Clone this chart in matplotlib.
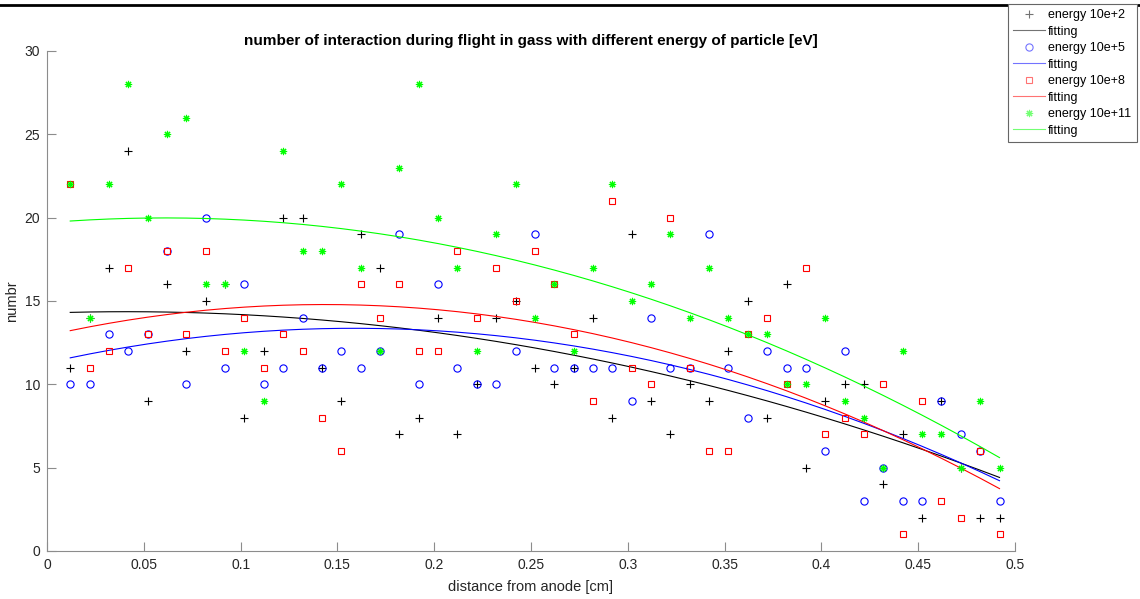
import numpy as np
import matplotlib
matplotlib.use("Agg")
import matplotlib.pyplot as plt
from matplotlib.lines import Line2D

plt.rcParams['font.family'] = ['Liberation Sans', 'DejaVu Sans']

# distance from anode [cm]
distance = [0.012, 0.022, 0.032, 0.042, 0.052, 0.062, 0.072, 0.082, 0.092, 0.102,
            0.112, 0.122, 0.132, 0.142, 0.152, 0.162, 0.172, 0.182, 0.192, 0.202,
            0.212, 0.222, 0.232, 0.242, 0.252, 0.262, 0.272, 0.282, 0.292, 0.302,
            0.312, 0.322, 0.332, 0.342, 0.352, 0.362, 0.372, 0.382, 0.392, 0.402,
            0.412, 0.422, 0.432, 0.442, 0.452, 0.462, 0.472, 0.482, 0.492]

energy_1e2 = [11, 14, 17, 24, 9, 16, 12, 15, 16, 8,
              12, 20, 20, 11, 9, 19, 17, 7, 8, 14,
              7, 10, 14, 15, 11, 10, 11, 14, 8, 19,
              9, 7, 10, 9, 12, 15, 8, 16, 5, 9,
              10, 10, 4, 7, 2, 9, 5, 2, 2]
energy_1e5 = [10, 10, 13, 12, 13, 18, 10, 20, 11, 16,
              10, 11, 14, 11, 12, 11, 12, 19, 10, 16,
              11, 10, 10, 12, 19, 11, 11, 11, 11, 9,
              14, 11, 11, 19, 11, 8, 12, 11, 11, 6,
              12, 3, 5, 3, 3, 9, 7, 6, 3]
energy_1e8 = [22, 11, 12, 17, 13, 18, 13, 18, 12, 14,
              11, 13, 12, 8, 6, 16, 14, 16, 12, 12,
              18, 14, 17, 15, 18, 16, 13, 9, 21, 11,
              10, 20, 11, 6, 6, 13, 14, 10, 17, 7,
              8, 7, 10, 1, 9, 3, 2, 6, 1]
energy_1e11 = [22, 14, 22, 28, 20, 25, 26, 16, 16, 12,
               9, 24, 18, 18, 22, 17, 12, 23, 28, 20,
               17, 12, 19, 22, 14, 16, 12, 17, 22, 15,
               16, 19, 14, 17, 14, 13, 13, 10, 10, 14,
               9, 8, 5, 12, 7, 7, 5, 9, 5]

labels = ['energy 10e+2', 'energy 10e+5', 'energy 10e+8', 'energy 10e+11']
colors = ['#000000', '#0000ff', '#ff0000', '#00ff00']
markers = ['+', 'o', 's', (8, 2, 0)]
msizes = [6.0, 5.2, 4.4, 5.2]

W, H = 1140, 599
fig = plt.figure(figsize=(W / 100, H / 100), dpi=100)
ax = fig.add_axes([47 / W, 1 - 551 / H, (1015 - 47) / W, (551 - 51) / H])

x = np.array(distance)
handles = []
for ys, lab, c, m, ms in zip([energy_1e2, energy_1e5, energy_1e8, energy_1e11],
                             labels, colors, markers, msizes):
    y = np.array(ys, dtype=float)
    h1, = ax.plot(x, y, linestyle='none', marker=m, markersize=ms,
                  markerfacecolor='none', markeredgecolor=c, markeredgewidth=0.8,
                  label=lab)
    p = np.polyfit(x, y, 2)
    h2, = ax.plot(x, np.polyval(p, x), color=c, linewidth=0.8, label='fitting')
    handles += [h1, h2]

ax.set_xlim(0, 0.5)
ax.set_ylim(0, 30)
ax.set_xticks([0, 0.05, 0.1, 0.15, 0.2, 0.25, 0.3, 0.35, 0.4, 0.45, 0.5])
ax.set_xticklabels(['0', '0.05', '0.1', '0.15', '0.2', '0.25', '0.3', '0.35',
                    '0.4', '0.45', '0.5'])
ax.set_yticks([0, 5, 10, 15, 20, 25, 30])
for s in ['top', 'right']:
    ax.spines[s].set_visible(False)
for s in ['left', 'bottom']:
    ax.spines[s].set_color('#8c8c8c')
    ax.spines[s].set_linewidth(0.8)
ax.tick_params(direction='in', length=6.7, width=0.8, color='#8c8c8c',
               labelsize=10, labelcolor='#262626', pad=5)

ax.set_title('number of interaction during flight in gass with different energy of particle [eV]',
             fontsize=11, fontweight='bold', pad=4)
ax.set_xlabel('distance from anode [cm]', fontsize=10.5, color='#262626', labelpad=6)
ax.set_ylabel('numbr', fontsize=10.5, color='#262626', labelpad=4)

leg = fig.legend(handles=handles, loc='upper left',
                 bbox_to_anchor=(1008 / W, 1 - 4 / H), borderaxespad=0,
                 fontsize=9, frameon=True, fancybox=False, framealpha=1,
                 edgecolor='#666666', labelspacing=0.36, handlelength=2.5,
                 handletextpad=0.3, borderpad=0.42, numpoints=1)
leg.get_frame().set_linewidth(0.8)
for ln in leg.get_lines():
    ln.set_alpha(0.55)

# top border line of the screenshot
fig.add_artist(Line2D([0, 1], [1 - 5 / H, 1 - 5 / H], transform=fig.transFigure,
                      color='black', linewidth=2.0))

fig.savefig('out.png', dpi=100)
